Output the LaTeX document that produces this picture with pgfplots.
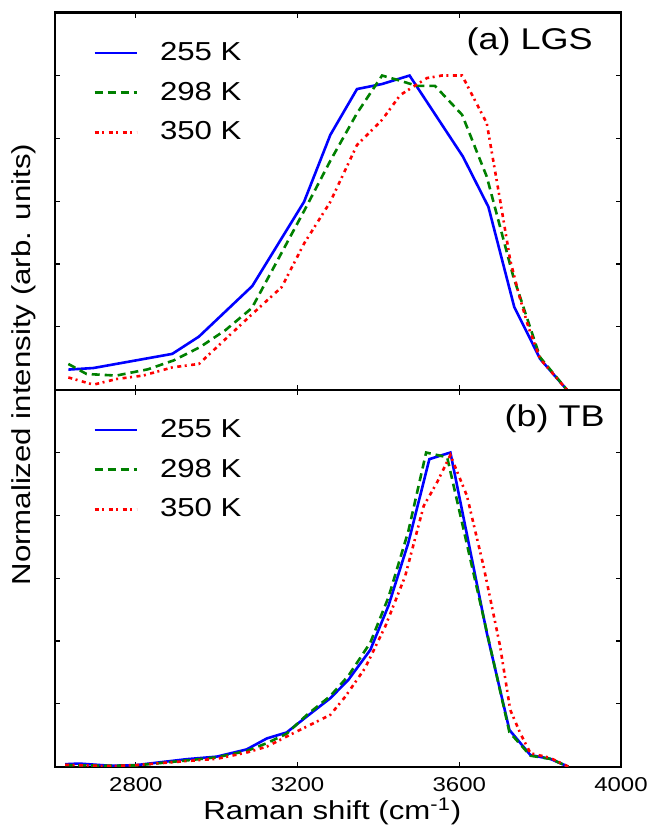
\documentclass[border=0pt]{standalone}
\usepackage{fontspec}
\setmainfont{Liberation Sans}[FakeStretch=1.2]
\usepackage{pgfplots}
\pgfplotsset{compat=1.18}

\definecolor{mplblue}{RGB}{0,0,255}
\definecolor{mplgreen}{RGB}{0,128,0}
\definecolor{mplred}{RGB}{255,0,0}

\pgfplotsset{
  panel/.style={
    scale only axis, width=283pt, height=188.5pt,
    xmin=2600, xmax=4000, ymin=0, ymax=1.2,
    xtick={2800,3200,3600,4000},
    ytick={0,0.2,0.4,0.6,0.8,1.0,1.2}, yticklabel=\empty,
    tick align=inside, major tick length=2.5pt,
    tick style={black, line width=0.6pt},
    axis line style={line width=1.2pt},
    xticklabel style={font=\fontsize{10}{12}\selectfont, yshift=-2pt},
    /pgf/number format/assume math mode=true,
    /pgf/number format/1000 sep={},
    legend style={at={(axis description cs:0,1)}, anchor=north west,
      xshift=16pt, yshift=-12.6pt, draw=none, fill=none,
      font=\fontsize{13}{15}\selectfont, row sep=9.3pt,
      nodes={inner sep=0pt}},
    legend cell align=left,
    legend image code/.code={\draw[##1] (0pt,0pt) -- (21pt,0pt); \path (32pt,0pt);},
  },
  s255/.style={mplblue, line width=1.3pt},
  s298/.style={mplgreen, line width=1.3pt, dash pattern=on 4pt off 2.5pt},
  s350/.style={mplred, line width=1.3pt, dash pattern=on 2pt off 1.75pt on 1pt off 2.25pt},
}

\begin{document}
\begin{tikzpicture}
% (a) LGS
\begin{axis}[panel, name=top, xticklabel=\empty]
\addplot[s255] coordinates {(2633,0.064) (2695,0.069) (2890,0.114) (2956,0.169) (3088,0.330) (3216,0.598) (3281,0.811) (3347,0.957) (3409,0.973) (3477,1.0) (3609,0.742) (3672,0.582) (3736,0.263) (3800,0.098) (3866,0.0)};
\addlegendentry{255 K}
\addplot[s298] coordinates {(2633,0.082) (2678,0.050) (2752,0.045) (2830,0.065) (2893,0.093) (2958,0.135) (3022,0.19) (3087,0.26) (3217,0.571) (3282,0.731) (3347,0.88) (3409,1.0) (3450,0.985) (3495,0.967) (3540,0.967) (3607,0.875) (3668,0.678) (3734,0.358) (3800,0.103) (3866,0.0)};
\addlegendentry{298 K}
\addplot[s350] coordinates {(2633,0.039) (2695,0.016) (2752,0.034) (2818,0.045) (2890,0.071) (2956,0.082) (3088,0.241) (3161,0.327) (3216,0.465) (3281,0.598) (3347,0.779) (3409,0.859) (3454,0.938) (3520,0.992) (3557,1.0) (3607,1.0) (3668,0.848) (3701,0.603) (3726,0.412) (3747,0.305) (3771,0.199) (3800,0.098) (3866,0.0)};
\addlegendentry{350 K}
\node[anchor=east, inner sep=0pt, font=\fontsize{15}{18}\selectfont] at (axis description cs:0.9505,0.923) {(a) LGS};
\end{axis}
% (b) TB
\begin{axis}[panel, name=bot, at={(top.south west)}, anchor=north west,
  xlabel={Raman shift (cm\textsuperscript{-1})},
  xlabel style={at={(axis description cs:0.49,0)}, anchor=center, yshift=-22.3pt, font=\fontsize{13}{15}\selectfont}]
\addplot[s255] coordinates {(2625,0.008) (2660,0.010) (2736,0.003) (2800,0.005) (2926,0.024) (3000,0.032) (3074,0.055) (3124,0.09) (3173,0.109) (3223,0.16) (3281,0.218) (3326,0.277) (3380,0.372) (3425,0.513) (3474,0.713) (3526,0.979) (3578,1.0) (3668,0.426) (3724,0.117) (3776,0.037) (3825,0.025) (3870,0.0)};
\addlegendentry{255 K}
\addplot[s298] coordinates {(2625,0.005) (2736,0.003) (2800,0.004) (2926,0.02) (3000,0.03) (3074,0.05) (3124,0.075) (3173,0.105) (3223,0.165) (3281,0.225) (3326,0.29) (3380,0.395) (3425,0.54) (3474,0.75) (3518,1.0) (3570,0.985) (3668,0.43) (3724,0.11) (3776,0.035) (3825,0.025) (3870,0.0)};
\addlegendentry{298 K}
\addplot[s350] coordinates {(2625,0.006) (2736,0.002) (2800,0.005) (2926,0.018) (3000,0.025) (3074,0.045) (3124,0.064) (3173,0.096) (3223,0.128) (3281,0.165) (3318,0.223) (3367,0.314) (3417,0.447) (3466,0.606) (3512,0.83) (3545,0.905) (3578,0.992) (3619,0.862) (3660,0.638) (3701,0.383) (3726,0.181) (3751,0.106) (3776,0.043) (3825,0.028) (3870,0.0)};
\addlegendentry{350 K}
\node[anchor=east, inner sep=0pt, font=\fontsize{15}{18}\selectfont] at (axis description cs:0.9717,0.923) {(b) TB};
\end{axis}
\node[rotate=90, inner sep=0pt, font=\fontsize{13}{15}\selectfont] at ([xshift=-15.5pt,yshift=-176pt]top.north west) {Normalized intensity (arb. units)};
\pgfresetboundingbox
\path ([xshift=-27.5pt,yshift=6.35pt]top.north west) rectangle ([xshift=16pt,yshift=-29.15pt]bot.south east);
\end{tikzpicture}
\end{document}
